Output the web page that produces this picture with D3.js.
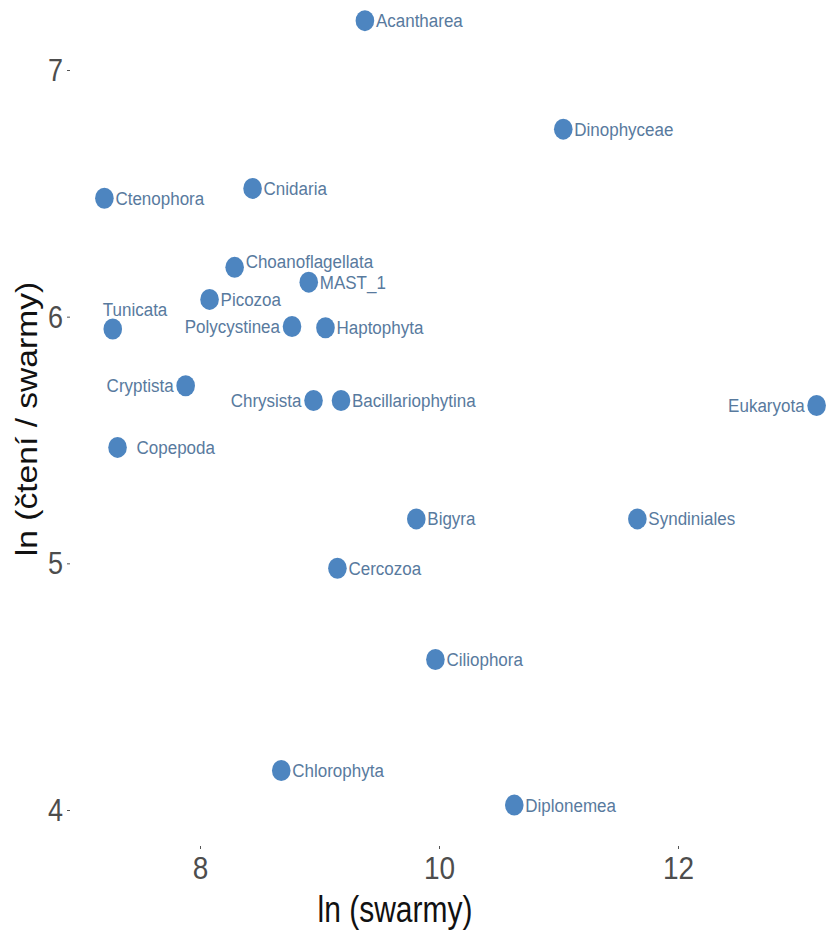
<!DOCTYPE html>
<html><head><meta charset="utf-8">
<script src="https://cdn.jsdelivr.net/npm/d3@7"></script>
<style>body{margin:0;background:#fff}svg{display:block}</style>
</head><body>
<script>
const taxa = ["Acantharea","Dinophyceae","Ctenophora","Cnidaria","Choanoflagellata","MAST_1","Picozoa","Tunicata","Polycystinea","Haptophyta","Cryptista","Chrysista","Bacillariophytina","Eukaryota","Copepoda","Bigyra","Syndiniales","Cercozoa","Ciliophora","Chlorophyta","Diplonemea"];
const lnSwarmy = [9.38,11.04,7.20,8.44,8.29,8.91,8.08,7.27,8.77,9.05,7.88,8.95,9.18,13.16,7.31,9.81,11.66,9.15,9.97,8.68,10.63];
const lnReadsPerSwarm = [7.20,6.76,6.48,6.52,6.20,6.14,6.07,5.95,5.96,5.955,5.72,5.66,5.66,5.64,5.47,5.18,5.18,4.98,4.61,4.16,4.02];
const labelSide = ["right","right","right","right","right-up","right","right","above","left","right","left","left","right","left","right-far","right","right","right","right","right","right"];
const xTicks = [8,10,12];
const yTicks = [4,5,6,7];

const W = 827, H = 931;
const FONT = "'Liberation Sans', Arial, sans-serif";
const svg = d3.select("body").append("svg").attr("width", W).attr("height", H);
const x = d3.scaleLinear().domain([8,12]).range([200,678]);
const y = d3.scaleLinear().domain([4,7]).range([810,70]);

const tickColor = "#4d4d4d";
// y axis
const yAxis = svg.append("g").attr("transform","translate(70,0)")
  .call(d3.axisLeft(y).tickValues(yTicks).tickSize(3).tickPadding(4).tickFormat(d3.format("d")));
yAxis.select(".domain").remove();
yAxis.selectAll(".tick line").attr("stroke","#555");
yAxis.selectAll(".tick text").attr("fill",tickColor).style("font-family",FONT).style("font-size","27px")
  .attr("dy","0.34em").attr("transform","scale(1,1.15)");

// x axis
const xAxis = svg.append("g").attr("transform","translate(0,846)")
  .call(d3.axisBottom(x).tickValues(xTicks).tickSize(3).tickPadding(6).tickFormat(d3.format("d")));
xAxis.select(".domain").remove();
xAxis.selectAll(".tick line").attr("stroke","#555");
xAxis.selectAll(".tick text").attr("fill",tickColor).style("font-family",FONT).style("font-size","28px")
  .attr("transform","scale(1,1.15)");

// axis titles
svg.append("text").attr("transform","translate(395,922) scale(1,1.2)").attr("text-anchor","middle")
  .style("font-family",FONT).style("font-size","30px").attr("fill","#111")
  .text("ln (swarmy)");
svg.append("text").attr("transform","translate(37,419) rotate(-90) scale(1.12,1)").attr("text-anchor","middle")
  .style("font-family",FONT).style("font-size","30px").attr("fill","#111")
  .text("ln (čtení / swarmy)");

const data = taxa.map((t,i)=>({t, xv:lnSwarmy[i], yv:lnReadsPerSwarm[i], side:labelSide[i]}));
const col = "#4d85c0";
svg.append("g").selectAll("ellipse").data(data).join("ellipse")
  .attr("cx",d=>x(d.xv)).attr("cy",d=>y(d.yv)).attr("rx",9.3).attr("ry",10.5).attr("fill",col);

function lx(d){const cx=x(d.xv); if(d.side==="left") return cx-12; if(d.side==="above") return cx-10; if(d.side==="right-far") return cx+19; return cx+11;}
function ly(d){const cy=y(d.yv); if(d.side==="above") return cy-20; if(d.side==="right-up") return cy-6; return cy;}
svg.append("g").selectAll("text").data(data).join("text")
  .attr("transform",d=>`translate(${lx(d)},${ly(d)}) scale(1,1.07)`)
  .attr("dy","0.36em")
  .attr("text-anchor",d=>d.side==="left"?"end":"start")
  .attr("fill","#587a9e")
  .style("font-family",FONT).style("font-size","17px")
  .text(d=>d.t);
</script>
</body></html>
